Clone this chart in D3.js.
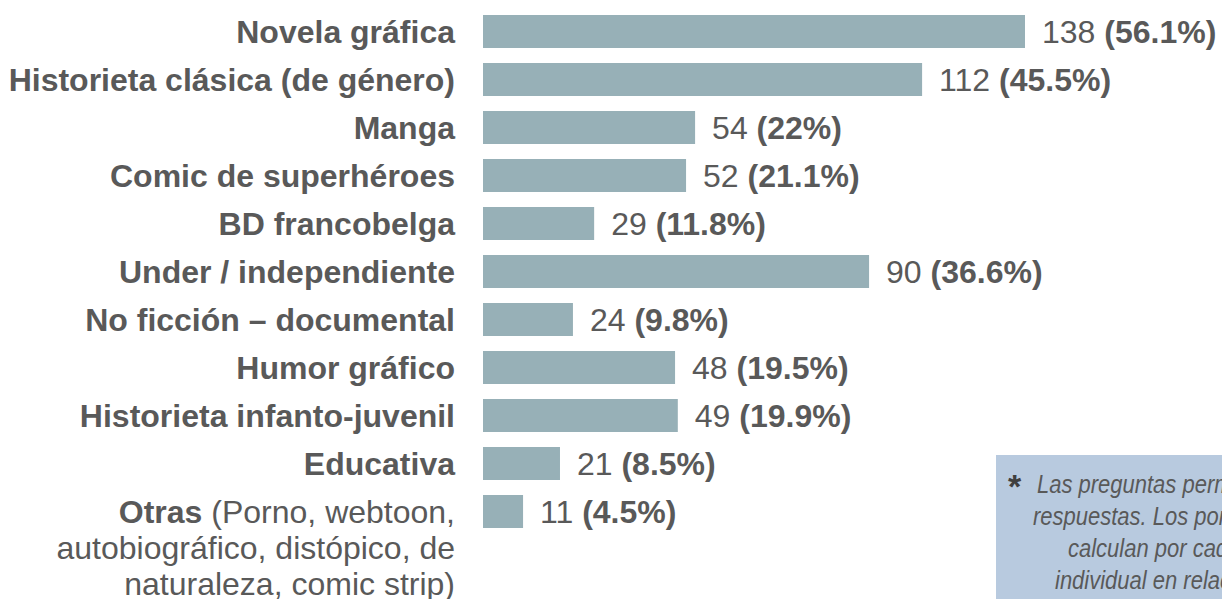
<!DOCTYPE html>
<html>
<head>
<meta charset="utf-8">
<script src="https://cdn.jsdelivr.net/npm/d3@7"></script>
<style>
  body { margin: 0; background: #fff; overflow: hidden; }
  svg { display: block; font-family: "Liberation Sans", Arial, sans-serif; }
</style>
</head>
<body>
<svg id="chart" width="1222" height="599"></svg>
<script>
// categories, top to bottom
var categories = [
  "Novela gráfica",
  "Historieta clásica (de género)",
  "Manga",
  "Comic de superhéroes",
  "BD francobelga",
  "Under / independiente",
  "No ficción – documental",
  "Humor gráfico",
  "Historieta infanto-juvenil",
  "Educativa",
  "Otras"
];
// counts as labelled
var counts = [138, 112, 54, 52, 29, 90, 24, 48, 49, 21, 11];
// bar lengths as drawn in the picture (the "Under" bar is drawn longer than its label)
var barLengths = [138, 111.8, 54, 51.7, 28.3, 98.3, 22.9, 48.9, 49.6, 19.6, 10.2];
var percents = ["56.1%", "45.5%", "22%", "21.1%", "11.8%", "36.6%", "9.8%", "19.5%", "19.9%", "8.5%", "4.5%"];
// extra text for the last label
var otrasLines = ["(Porno, webtoon,", "autobiográfico, distópico, de", "naturaleza, comic strip)"];
var noteLines = [
  "Las preguntas permitían múltiples",
  "respuestas. Los porcentajes se",
  "calculan por cada respuesta",
  "individual en relación al total"
];

var data = categories.map(function(c, i) {
  return {cat: c, n: counts[i], len: barLengths[i], pct: percents[i]};
});

var svg = d3.select("#chart");
var textColor = "#595959";
var barColor = "#97b0b7";
var fs = 32;

//scales
var x = d3.scaleLinear().domain([0, 138]).range([483, 1025]);
var y = d3.scaleBand()
  .domain(categories)
  .range([15, 15 + 48 * 11 - 15])
  .paddingInner(0.3125)
  .paddingOuter(0);

//bars
svg.selectAll("rect.bar")
  .data(data)
  .enter().append("rect")
  .attr("class", "bar")
  .attr("x", x(0))
  .attr("y", function(d) { return y(d.cat); })
  .attr("width", function(d) { return x(d.len) - x(0); })
  .attr("height", y.bandwidth())
  .attr("fill", barColor);

//category labels
var lab = svg.selectAll("text.lab")
  .data(data)
  .enter().append("text")
  .attr("class", "lab")
  .attr("x", 455)
  .attr("y", function(d) { return y(d.cat) + y.bandwidth() / 2; })
  .attr("dy", "0.35em")
  .attr("text-anchor", "end")
  .attr("fill", textColor)
  .style("font-size", fs + "px")
  .style("font-weight", "bold");

lab.each(function(d) {
  var t = d3.select(this);
  if (d.cat === "Otras") {
    t.append("tspan").text("Otras");
    t.append("tspan").style("font-weight", "normal").text(" " + otrasLines[0]);
  } else {
    t.text(d.cat);
  }
});

// remaining lines of "Otras"
otrasLines.slice(1).forEach(function(line, i) {
  svg.append("text")
    .attr("x", 455)
    .attr("y", y("Otras") + y.bandwidth() / 2 + 36 * (i + 1))
    .attr("dy", "0.35em")
    .attr("text-anchor", "end")
    .attr("fill", textColor)
    .style("font-size", fs + "px")
    .text(line);
});

//value labels
var val = svg.selectAll("text.val")
  .data(data)
  .enter().append("text")
  .attr("class", "val")
  .attr("x", function(d) { return x(d.len) + 17; })
  .attr("y", function(d) { return y(d.cat) + y.bandwidth() / 2; })
  .attr("dy", "0.35em")
  .attr("fill", textColor)
  .style("font-size", fs + "px");
val.append("tspan").text(function(d) { return d.n + " "; });
val.append("tspan").style("font-weight", "bold").text(function(d) { return "(" + d.pct + ")"; });

//note box
var note = svg.append("g");
note.append("rect")
  .attr("x", 996)
  .attr("y", 455)
  .attr("width", 400)
  .attr("height", 200)
  .attr("fill", "#b8cadf");
note.append("text")
  .attr("x", 1008)
  .attr("y", 498)
  .attr("fill", "#404040")
  .style("font-size", "34px")
  .style("font-weight", "bold")
  .text("*");
var noteX = [1037, 1033, 1068, 1055];
noteLines.forEach(function(line, i) {
  note.append("text")
    .attr("transform", "translate(" + noteX[i] + "," + (493 + 32 * i) + ") scale(0.88,1)")
    .attr("fill", "#595959")
    .style("font-style", "italic")
    .style("font-size", "25px")
    .text(line);
});
</script>
</body>
</html>
